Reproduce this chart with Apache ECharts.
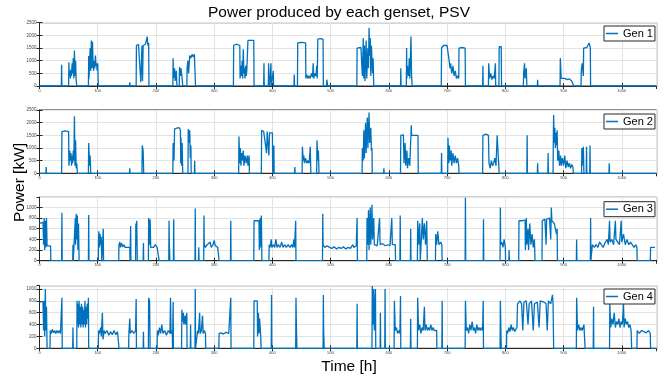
<!DOCTYPE html>
<html><head><meta charset="utf-8">
<script src="https://cdn.jsdelivr.net/npm/echarts@6/dist/echarts.min.js"></script>
<style>html,body{margin:0;padding:0;background:#fff}#c{width:668px;height:383px}</style>
</head><body><div id="c"></div>
<script>
// ---- data: [time h, power kW] ----
const seriesNames = ['Gen 1', 'Gen 2', 'Gen 3', 'Gen 4'];
const gen1 = [[0,0],[37.5,0],[38,840],[38.5,0],
[50,0],[50.5,940],[51,400],[52,600],[53,300],[54,650],[55,400],[56,900],[57,500],[58,1100],[59,300],[60,1400],[61,400],[62,1000],[63,200],[64,0],
[84,0],[84.5,1180],[85,300],[86,900],[87,1500],[88,600],[89,1800],[90,700],[91,1750],[92,900],[93,600],[94,1000],[95,700],[96,1200],[97,800],[98,900],[99,600],[100,900],[101,0],
[154.5,0],[155,150],[155.5,0],
[166,0],[166.5,1600],[170,1650],[173,1600],[174,150],[176,1600],[177,200],[178,1600],[182,1650],[185,1950],[186,1600],[187.5,1700],[188,0],
[229,0],[229.5,1100],[230,300],[232,700],[233,200],[235,600],[236,0],[240,0],[240.5,750],[242,400],[243,700],[245,300],[246,0],
[253,0],[253.5,700],[255,1000],[256,500],[258,1200],[260,1100],[262,1250],[264,1150],[266,1250],[268,0],
[333,0],[333.5,1600],[338,1650],[344,1600],[344.5,300],[346,800],[347,400],[348,1000],[349,300],[350,1450],[351,500],[352,700],[353,300],[354,800],[355,400],[356,600],[358,1800],[364,1800],[368,1800],[368.5,0],
[385,0],[385.5,900],[386,0],[393,0],[393.5,900],[394,200],[395,0],[397,0],[397.5,900],[398,0],[401,0],[401.5,600],[402,0],
[437,0],[437.5,450],[438,0],
[443,0],[443.5,1700],[450,1720],[457,1700],[457.5,300],[459,450],[461,300],[463,400],[465,300],[467,500],[469,350],[470,900],[471,300],[473,500],[475,400],[476,800],[477,300],[478,1850],[483,1870],[487,1850],[487.5,0],
[493,0],[493.5,250],[495,0],
[545,0],[545.5,1500],[552,1520],[554,1500],[554.5,400],[556,1900],[557,300],[558,1600],[559,200],[560,1000],[561,1800],[562,300],[564,1500],[565,700],[566,2300],[567,1200],[568,1900],[569,400],[570,1600],[572,500],[573,1100],[574,0],
[620,0],[620.5,700],[621,0],
[630,0],[630.5,1500],[631,300],[632,800],[634,400],[635,1100],[636,300],[638,1950],[639,400],[640,0],
[690,0],[690.5,1500],[694,1600],[697,1550],[700,1600],[703,1550],[703.5,1000],[705,700],[706,900],[708,500],[710,800],[712,400],[714,600],[716,300],[718,400],[720,300],[720.5,1500],[726,1520],[731,1500],[731.5,0],
[761,0],[761.5,800],[762,0],[771,0],[771.5,900],[773,300],[775,500],[777,250],[779,400],[781,300],[783,900],[783.5,0],[789,0],[789.5,1550],[793,1550],[793.5,0],
[831,0],[831.5,500],[833,900],[834,300],[836,700],[837,0],
[855,0],[855.5,250],[856,0],
[894,0],[894.5,1100],[896,300],[898,250],[902,300],[906,250],[910,280],[914,200],[917,250],[917.5,0],
[930,0],[930.5,600],[932,900],[934,400],[934.5,1500],[940,1520],[944,1700],[946,1500],[946.5,0],
[1060,0]];
const gen2 = [[0,0],[11,0],[11.5,250],[12,0],
[38,0],[38.5,1650],[44,1680],[50,1650],[50.5,300],[52,900],[53,500],[54,800],[55,300],[56,700],[57,400],[58,900],[59,500],[60,2250],[61,300],[62,1300],[63,200],[64,400],[65,0],
[84,0],[84.5,1200],[86,300],[87,700],[88,0],
[154.5,0],[155,200],[155.5,0],
[176,0],[176.5,1100],[178,900],[179,0],
[229,0],[229.5,1200],[231,500],[232,1750],[236,1780],[239,1750],[240,1800],[242,1700],[242.5,400],[243,1400],[244,300],[245,1200],[246,0],
[255,0],[255.5,1750],[257,1200],[258,1700],[259,600],[260,1100],[260.5,0],
[266,0],[266.5,500],[267,0],
[342,0],[342.5,1450],[344,400],[345,1000],[346,300],[347,800],[348,500],[350,900],[351,300],[353,700],[355,400],[357,700],[358,300],[360,700],[360.5,0],
[381,0],[381.5,1700],[385,1650],[388,1700],[390,800],[391,1650],[394,700],[395,1600],[398,1650],[400,1600],[400.5,0],[402,0],[402.5,1100],[403,0],
[438,0],[438.5,250],[439,0],
[451,0],[451.5,1050],[453,500],[454,700],[455,400],[457,600],[459,400],[461,500],[463,400],[465,1050],[466,0],
[476,0],[476.5,1300],[478,500],[479,900],[480,0],
[554,0],[554.5,1000],[556,500],[557,1700],[558,600],[560,2000],[561,800],[563,2200],[564,1000],[566,2400],[567,1200],[569,1800],[570,900],[571,1000],[571.5,0],
[591,0],[591.5,200],[592,0],
[620,0],[620.5,1500],[625,1520],[626,400],[628,1200],[629,300],[631,900],[632,200],[634,600],[636,300],[637,1000],[638,1500],[638.5,1900],[639,1500],[645,1500],[650,1500],[650.5,0],
[690,0],[690.5,800],[691,0],
[701,0],[701.5,1400],[703,400],[704,1100],[705,500],[707,900],[708,300],[710,800],[712,400],[714,700],[716,400],[718,600],[720,300],[720.5,0],
[761,0],[761.5,1500],[767,1550],[771,1500],[772,400],[774,200],[776,500],[778,300],[780,400],[782,600],[784,300],[786,1500],[789,1500],[789.5,0],
[837,0],[837.5,1500],[838,0],
[855,0],[855.5,400],[856,0],
[873,0],[873.5,800],[874,0],
[882,0],[882.5,1400],[883,2300],[884,1200],[885,1800],[886,1000],[887,1600],[888,1100],[889,1700],[890,500],[892,900],[893,300],[895,700],[896,300],[898,600],[900,300],[902,700],[904,200],[906,500],[908,250],[910,400],[912,200],[914,350],[916,250],[917,0],
[931,0],[931.5,1000],[932,300],[934,1050],[935,0],[939,0],[939.5,1050],[940,0],
[945,0],[945.5,1100],[946,0],
[978,0],[978.5,400],[979,0],
[1060,0]];
const gen3 = [[0,700],[3,730],[6,720],[7,300],[8,800],[9,200],[10,750],[11,250],[12,800],[13,280],[16,300],[19,280],[19.5,0],
[38,0],[38.5,900],[39,0],
[57,0],[57.5,300],[58,0],
[61,0],[61.5,800],[62,300],[63,880],[64,400],[65,850],[66,200],[67,700],[68,0],
[84,0],[84.5,860],[85,0],
[101,0],[101.5,400],[102,550],[103,250],[104,500],[105,300],[106,450],[107,0],[109,0],[109.5,600],[110,0],
[136,0],[136.5,300],[138,350],[139,250],[141,330],[143,260],[145,300],[147,250],[149,280],[151,250],[153,280],[155,250],[155.5,0],[156,0],[156.5,650],[157,0],
[165,0],[165.5,700],[166,300],[167,750],[168,0],
[178,0],[178.5,330],[179,0],
[187,0],[187.5,800],[189,300],[190,780],[191,250],[193,280],[196,250],[199,300],[202,250],[205,280],[205.5,0],
[222,0],[222.5,750],[223,300],[224,0],
[230,0],[230.5,780],[231,0],
[267,0],[267.5,980],[268,0],
[273,0],[273.5,250],[274,0],
[282,0],[282.5,850],[283,300],[285,250],[288,300],[291,280],[293,350],[295,250],[298,300],[300,380],[302,280],[304,300],[306,250],[308,280],[308.5,0],
[328,0],[328.5,750],[329,0],
[368,0],[368.5,750],[372,750],[377,750],[377.5,200],[379,800],[380,250],[381,850],[382,0],
[394,0],[394.5,300],[396,250],[398,400],[399,250],[402,300],[404,250],[406,400],[408,250],[410,300],[413,250],[416,350],[418,250],[421,300],[424,250],[427,300],[430,250],[433,300],[435,250],[437,400],[438,250],[440,750],[440.5,0],
[486,0],[486.5,880],[487,300],[490,250],[494,280],[498,250],[502,230],[506,260],[510,220],[514,250],[518,230],[522,260],[526,220],[530,250],[534,230],[538,300],[540,250],[544,280],[545,250],[545.5,800],[546,0],
[562,0],[562.5,800],[564,300],[565,950],[566,200],[568,1000],[569,300],[571,1050],[572,400],[574,800],[575,300],[577,300],[580,280],[584,800],[585,300],[589,320],[594,280],[598,300],[602,280],[605,800],[606,300],[608,280],[611,300],[611.5,0],
[619,0],[619.5,850],[620,0],
[637,0],[637.5,600],[638,0],
[649,0],[649.5,750],[651,300],[653,700],[654,0],[657,0],[657.5,800],[659,400],[661,700],[663,300],[665,750],[666,0],
[680,0],[680.5,500],[682,300],[684,550],[686,300],[689,350],[691,300],[691.5,0],
[731,0],[731.5,1180],[732,0],
[762,0],[762.5,780],[763,0],
[791,0],[791.5,1000],[792,300],[794,350],[796,250],[798,400],[800,250],[800.5,0],
[806,0],[806.5,200],[807,0],
[823,0],[823.5,750],[828,750],[834,760],[834.5,200],[836,800],[837,300],[839,600],[840,200],[842,700],[844,300],[846,500],[848,250],[850,400],[851,0],
[863,0],[863.5,750],[868,780],[870,300],[871,780],[876,800],[878,400],[879,1000],[880,750],[884,700],[886,600],[888,500],[889,600],[889.5,0],
[922,0],[922.5,400],[923,0],
[946,0],[946.5,800],[947,0],
[949,0],[949.5,300],[953,250],[956,300],[959,250],[962,350],[965,300],[968,250],[972,350],[975,400],[977,300],[979,750],[980,350],[983,400],[986,300],[989,750],[990,400],[993,350],[996,300],[999,750],[1000,350],[1003,500],[1006,300],[1009,400],[1012,300],[1015,350],[1018,300],[1021,250],[1024,300],[1026,250],[1026.5,0],
[1049,0],[1049.5,250],[1053,250],[1057,250]];
const gen4 = [[0,780],[3,800],[6,790],[7,300],[8,800],[9,200],[10,1000],[11,300],[12,700],[13,0],
[18,0],[18.5,300],[20,250],[22,320],[24,260],[26,300],[28,250],[30,300],[32,260],[34,300],[36,250],[38,280],[38.5,850],[39,0],
[57,0],[57.5,350],[58,0],
[64,0],[64.5,800],[65,400],[66,750],[67,350],[68,800],[69,400],[70,700],[71,350],[72,750],[73,400],[74,700],[75,350],[76,650],[77,400],[78,800],[79,350],[80,700],[81,400],[82,750],[83,500],[84,850],[84.5,0],
[101,0],[101.5,300],[103,250],[105,350],[106,200],[108,600],[109,150],[111,300],[113,250],[116,300],[119,220],[122,280],[125,230],[128,300],[131,230],[134,280],[136,250],[136.5,0],
[153,0],[153.5,250],[155,500],[156,250],[159,300],[162,250],[165,300],[166,830],[166.5,0],
[178,0],[178.5,280],[179,0],
[187,0],[187.5,850],[189,800],[190,0],
[202,0],[202.5,300],[204,220],[206,350],[208,250],[210,400],[212,250],[215,300],[218,220],[221,300],[224,250],[225,850],[226,250],[228,300],[228.5,0],
[229,0],[229.5,780],[230,0],
[244,0],[244.5,650],[246,450],[247,600],[248,400],[250,550],[251,400],[253,600],[253.5,0],
[259,0],[259.5,400],[260,0],
[267,0],[267.5,1000],[268,0],
[271,0],[271.5,300],[273,250],[275,600],[276,250],[278,300],[280,550],[281,250],[283,300],[285,250],[285.5,0],
[308,0],[308.5,250],[312,260],[316,240],[320,270],[323,300],[325,250],[328,260],[328.5,850],[329,0],
[368,0],[368.5,800],[371,780],[374,800],[374.5,200],[376,600],[377,250],[378,500],[380,200],[380.5,0],
[398,0],[398.5,900],[399,0],
[440,0],[440.5,850],[441,500],[442,0],
[487,0],[487.5,900],[488,300],[489,0],
[545,0],[545.5,750],[546,0],
[571,0],[571.5,1050],[573,400],[574,1000],[575,300],[577,1000],[577.5,0],
[585,0],[585.5,600],[586,0],
[593,0],[593.5,1000],[594,0],
[609,0],[609.5,800],[611,300],[613,350],[615,250],[617,300],[619,250],[620,880],[620.5,0],
[637,0],[637.5,500],[638,0],
[649,0],[649.5,850],[651,300],[653,400],[655,250],[657,350],[659,300],[661,700],[662,300],[664,400],[666,300],[668,350],[670,300],[672,400],[674,300],[676,350],[678,300],[680,300],[682,300],[682.5,0],
[691,0],[691.5,800],[692,0],
[731,0],[731.5,800],[733,300],[735,350],[737,250],[739,400],[741,300],[743,450],[745,300],[747,350],[749,250],[751,400],[753,300],[755,350],[757,300],[759,350],[761,300],[762,800],[762.5,0],
[791,0],[791.5,800],[793,0],
[802,0],[802.5,300],[804,250],[806,350],[808,280],[810,400],[812,300],[814,350],[816,280],[818,300],[820,350],[821,750],[825,800],[828,750],[830,300],[832,780],[836,800],[839,400],[841,750],[845,800],[848,300],[850,750],[855,780],[858,350],[860,800],[866,780],[870,750],[872,300],[874,800],[878,750],[881,900],[882,750],[883,0],
[922,0],[922.5,850],[924,300],[926,400],[928,300],[930,350],[932,300],[935,400],[937,0],
[951,0],[951.5,700],[952,0],
[979,0],[979.5,750],[981,350],[983,500],[985,400],[987,600],[989,350],[991,450],[993,400],[995,500],[997,350],[999,450],[1001,400],[1003,750],[1004,350],[1006,500],[1008,400],[1010,450],[1012,350],[1014,400],[1016,300],[1017,0],
[1026,0],[1026.5,300],[1030,250],[1034,300],[1038,280],[1042,260],[1046,300],[1049,250],[1049.5,0],
[1060,0]];
const yMax = [2500, 2500, 1190, 1055];
const yInterval = [500, 500, 200, 200];
const timeMax = 1060;
const timeInterval = 100;

// ---- layout ----
const allData = [gen1, gen2, gen3, gen4];
const gridTops = [22.7, 110, 197.3, 285.7];
const gridHeights = [63.3, 63.3, 63.4, 62.6];
const legendTops = [26, 114, 201.7, 289];
const FONT = "'Liberation Sans', Arial, Helvetica, sans-serif";
const INK = '#262626';
const BLUE = '#0072BD';
const plain = v => String(v);

const grid = [], xAxis = [], yAxis = [], series = [], legend = [];
for (let i = 0; i < 4; i++) {
  grid.push({left: 39.5, right: 11.3, top: gridTops[i], height: gridHeights[i], show: true, borderColor: INK, borderWidth: 1, backgroundColor: '#fff'});
  const tick = {show: true, inside: true, length: 3, lineStyle: {color: INK, width: 1}};
  xAxis.push({type: 'value', gridIndex: i, min: 0, max: timeMax, interval: timeInterval, position: 'bottom',
    axisLine: {show: true, lineStyle: {color: INK}}, axisTick: tick,
    axisLabel: {fontSize: 4, color: '#444', margin: 2.5, fontFamily: FONT, showMaxLabel: false, formatter: plain},
    splitLine: {show: true, lineStyle: {color: '#e3e3e3', width: 1}}});
  xAxis.push({type: 'value', gridIndex: i, min: 0, max: timeMax, interval: timeInterval, position: 'top',
    axisLine: {show: true, lineStyle: {color: INK}}, axisTick: tick, axisLabel: {show: false}, splitLine: {show: false}});
  yAxis.push({type: 'value', gridIndex: i, min: 0, max: yMax[i], interval: yInterval[i], position: 'left',
    axisLine: {show: true, lineStyle: {color: INK}}, axisTick: tick,
    axisLabel: {fontSize: 4.5, color: '#444', margin: 3, fontFamily: FONT, showMaxLabel: yMax[i] % yInterval[i] === 0, formatter: plain},
    splitLine: {show: true, lineStyle: {color: '#e3e3e3', width: 1}}});
  yAxis.push({type: 'value', gridIndex: i, min: 0, max: yMax[i], interval: yInterval[i], position: 'right',
    axisLine: {show: true, lineStyle: {color: INK}}, axisTick: tick, axisLabel: {show: false}, splitLine: {show: false}});
  series.push({type: 'line', name: seriesNames[i], xAxisIndex: 2 * i, yAxisIndex: 2 * i, data: allData[i],
    showSymbol: false, symbol: 'none', lineStyle: {color: BLUE, width: 1.3}, itemStyle: {color: BLUE}, animation: false});
  legend.push({data: [seriesNames[i]], left: 604, top: legendTops[i], orient: 'vertical',
    padding: [1, 2, 1, 2], itemWidth: 12, itemHeight: 1.5, icon: 'rect',
    backgroundColor: '#fff', borderColor: INK, borderWidth: 1, borderRadius: 0,
    textStyle: {fontSize: 11, color: '#000', fontFamily: FONT, lineHeight: 13}, selectedMode: false});
}

const chart = echarts.init(document.getElementById('c'), null, {renderer: 'canvas'});
chart.setOption({
  animation: false,
  backgroundColor: '#fff',
  title: {text: 'Power produced by each genset, PSV', left: 334, top: 0, textAlign: 'center',
    textStyle: {fontSize: 15.5, fontWeight: 'normal', color: '#000', fontFamily: FONT}},
  grid, xAxis, yAxis, series, legend,
  graphic: [
    {type: 'text', x: 20, y: 182.5, rotation: Math.PI / 2,
      style: {text: 'Power [kW]', fontSize: 15.5, fill: '#000', fontFamily: FONT, align: 'center', verticalAlign: 'middle'}},
    {type: 'text', x: 349, y: 367, style: {text: 'Time [h]', fontSize: 15.5, fill: '#000', fontFamily: FONT, align: 'center', verticalAlign: 'middle'}}
  ]
});
</script></body></html>
